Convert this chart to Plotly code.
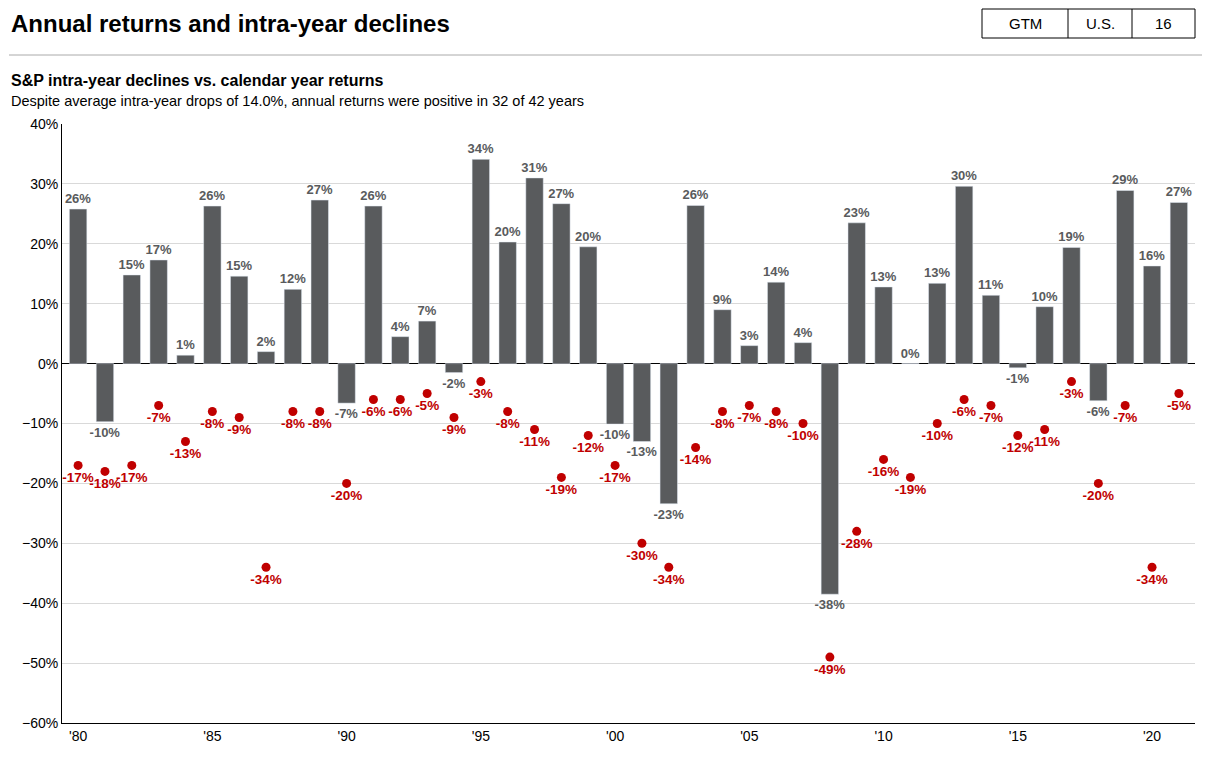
import plotly.graph_objects as go

years = list(range(1980, 2022))
returns = [25.8,-9.7,14.8,17.3,1.4,26.3,14.6,2.0,12.4,27.3,-6.6,26.3,4.5,7.1,-1.5,34.1,20.3,31.0,26.7,19.5,
           -10.1,-13.0,-23.4,26.4,9.0,3.0,13.6,3.5,-38.5,23.5,12.8,0.0,13.4,29.6,11.4,-0.7,9.5,19.4,-6.2,28.9,16.3,26.9]
return_labels = [26,-10,15,17,1,26,15,2,12,27,-7,26,4,7,-2,34,20,31,27,20,-10,-13,-23,26,9,3,14,4,-38,23,13,0,13,30,11,-1,10,19,-6,29,16,27]
declines = [-17,-18,-17,-7,-13,-8,-9,-34,-8,-8,-20,-6,-6,-5,-9,-3,-8,-11,-19,-12,-17,-30,-34,-14,-8,-7,-8,-10,-49,-28,
            -16,-19,-10,-6,-7,-12,-11,-3,-20,-7,-34,-5]
tick_years = [1980,1985,1990,1995,2000,2005,2010,2015,2020]
tick_text = ["'80","'85","'90","'95","'00","'05","'10","'15","'20"]

font = "Liberation Sans"
OFF = 8  # page body margin
L, R, T, B = 62 - OFF, 23, 124 - OFF, 42
PW, PH = 1210 - L - R, 757 - T - B
px = lambda v: (v - OFF - L) / PW
py = lambda v: 1 - (v - OFF - T) / PH

fig = go.Figure()
fig.add_bar(x=years, y=returns, marker_color="#595b5d", width=0.65, showlegend=False,
            text=[f"{v}%" for v in return_labels], textposition="outside", cliponaxis=False,
            constraintext="none",
            textfont=dict(color="#595b5d", size=13, family=font, weight="bold"))
fig.add_scatter(x=years, y=declines, mode="markers+text", showlegend=False, cliponaxis=False,
                marker=dict(color="#c00000", size=9),
                text=[f"{v}%" for v in declines], textposition="bottom center",
                textfont=dict(color="#c00000", size=13.5, family=font, weight="bold"))
fig.update_layout(
    width=1210, height=757, paper_bgcolor="white", plot_bgcolor="white",
    margin=dict(l=L, r=R, t=T, b=B),
    font=dict(family=font, color="#000"),
    xaxis=dict(range=[1979.4, 2021.6], tickvals=tick_years, ticktext=tick_text, showgrid=False,
               showline=True, linecolor="#000", linewidth=1, ticks="", tickfont=dict(size=14), zeroline=False),
    yaxis=dict(range=[-60, 40], dtick=10, ticksuffix="%", showgrid=True, gridcolor="#d9d9d9",
               showline=True, linecolor="#000", linewidth=1, tickfont=dict(size=14), zeroline=True,
               zerolinecolor="#000", zerolinewidth=1),
)
def ann(xpx, ypx, text, size, anchor="left"):
    fig.add_annotation(x=px(xpx), y=py(ypx), xref="paper", yref="paper", xanchor=anchor, yanchor="middle",
                       text=text, showarrow=False, font=dict(size=size, color="#000", family=font))
ann(9, 23, "<b>Annual returns and intra-year declines</b>", 24)
ann(9, 80, "<b>S&P intra-year declines vs. calendar year returns</b>", 16)
ann(9, 101, "Despite average intra-year drops of 14.0%, annual returns were positive in 32 of 42 years", 14.5)
ann(1025, 23, "GTM", 15, "center")
ann(1100, 23, "U.S.", 15, "center")
ann(1163, 23, "16", 15, "center")
fig.add_shape(type="line", xref="paper", yref="paper", x0=px(9), x1=px(1210), y0=py(55), y1=py(55),
              line=dict(color="#aaaaaa", width=1))
fig.add_shape(type="rect", xref="paper", yref="paper", x0=px(982), x1=px(1195), y0=py(9), y1=py(38),
              line=dict(color="#000", width=1), fillcolor="rgba(0,0,0,0)")
for xv in (1068, 1132):
    fig.add_shape(type="line", xref="paper", yref="paper", x0=px(xv), x1=px(xv), y0=py(9), y1=py(38),
                  line=dict(color="#000", width=1))
fig.write_html("out.html")
